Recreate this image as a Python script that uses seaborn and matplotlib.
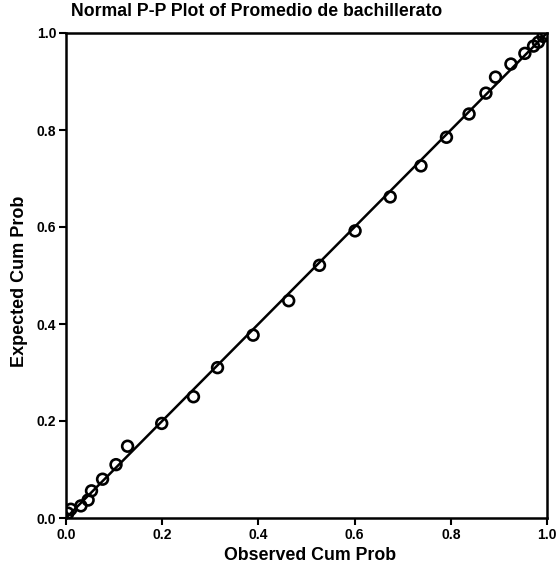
import matplotlib
matplotlib.use("Agg")
import matplotlib.pyplot as plt
import seaborn as sns
import pandas as pd

observed = [0.004, 0.010, 0.031, 0.046, 0.053, 0.076, 0.104, 0.128, 0.199, 0.265,
            0.315, 0.389, 0.463, 0.527, 0.601, 0.674, 0.738, 0.791, 0.838, 0.873,
            0.893, 0.925, 0.954, 0.972, 0.982, 0.992, 0.999]
expected = [0.010, 0.018, 0.025, 0.037, 0.056, 0.080, 0.110, 0.148, 0.195, 0.250,
            0.310, 0.377, 0.448, 0.521, 0.592, 0.662, 0.726, 0.785, 0.833, 0.876,
            0.909, 0.936, 0.958, 0.973, 0.981, 0.993, 0.999]
ref_line = [0.0, 1.0]
ticks = [0.0, 0.2, 0.4, 0.6, 0.8, 1.0]
tick_labels = ["0.0", "0.2", "0.4", "0.6", "0.8", "1.0"]

sns.set_theme(style="white")
plt.rcParams["font.family"] = ["Liberation Sans", "DejaVu Sans"]
plt.rcParams["font.weight"] = "bold"
plt.rcParams["text.color"] = "black"
plt.rcParams["axes.labelcolor"] = "black"
plt.rcParams["xtick.color"] = "black"
plt.rcParams["ytick.color"] = "black"

df = pd.DataFrame({"obs": observed, "exp": expected})
line_df = pd.DataFrame({"x": ref_line, "y": ref_line})

fig = plt.figure(figsize=(5.6, 5.78), dpi=100)
ax = fig.add_axes([66/560, 1 - 518/578, (547-66)/560, (518-33)/578])

sns.lineplot(data=line_df, x="x", y="y", ax=ax, color="black", linewidth=1.8, zorder=2)
sns.scatterplot(data=df, x="obs", y="exp", ax=ax, marker="o", s=60,
                facecolor="none", edgecolor="black", linewidth=1.9, zorder=3)

ax.set_xlim(0, 1)
ax.set_ylim(0, 1)
ax.set_xticks(ticks)
ax.set_xticklabels(tick_labels, fontsize=10, fontweight="bold", color="black")
ax.set_yticks(ticks)
ax.set_yticklabels(tick_labels, fontsize=10, fontweight="bold", color="black")
ax.tick_params(axis="both", direction="out", length=5, width=1.5, color="black",
               labelcolor="black", bottom=True, left=True, pad=2)
for s in ax.spines.values():
    s.set_visible(True)
    s.set_color("black")
    s.set_linewidth(1.8)

ax.set_xlabel("Observed Cum Prob", fontsize=12.8, fontweight="bold", color="black")
ax.set_ylabel("Expected Cum Prob", fontsize=13, fontweight="bold", color="black")
ax.xaxis.label.set_va("center")
ax.yaxis.label.set_va("center")
ax.xaxis.set_label_coords((310-66)/481, (518-555)/485)
ax.yaxis.set_label_coords((20-66)/481, (518-281)/485)
fig.text(257/560, 1 - 12/578, "Normal P-P Plot of Promedio de bachillerato",
         ha="center", va="center", fontsize=12.7, fontweight="bold", color="black")

fig.savefig("out.png", dpi=100)
